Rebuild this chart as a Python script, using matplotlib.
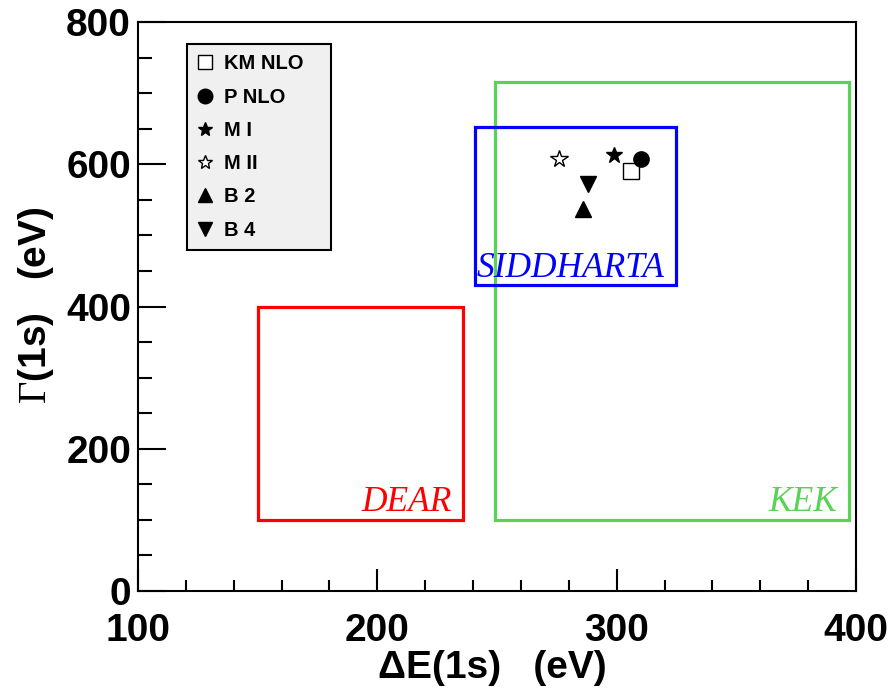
import matplotlib.pyplot as plt
from matplotlib.patches import Rectangle

plt.rcParams['font.family'] = ['Liberation Sans', 'DejaVu Sans']
plt.rcParams['mathtext.fontset'] = 'custom'
plt.rcParams['mathtext.rm'] = 'Liberation Serif'

# experimental boxes: (name, dE low, dE high, Gamma low, Gamma high)
box_names = ["DEAR", "KEK", "SIDDHARTA"]
box_de_lo = [150, 249, 241]
box_de_hi = [236, 397, 325]
box_g_lo = [100, 100, 430]
box_g_hi = [400, 715, 652]
box_colors = ["#ff0000", "#59d354", "#0000ff"]

# theory predictions
calc_names = ["KM NLO", "P NLO", "M I", "M II", "B 2", "B 4"]
calc_de = [306, 310, 299, 276, 286, 288]
calc_g = [590, 607, 613, 607, 537, 572]
calc_marker = ["s", "o", "*", "*", "^", "v"]
calc_face = ["white", "black", "black", "white", "black", "black"]
calc_size = [11, 11, 12, 13, 11, 11]

fig = plt.figure(figsize=(8.91, 6.95), dpi=100)
ax = fig.add_axes([0.1549, 0.1496, 0.9607 - 0.1549, 0.9683 - 0.1496])

for i in range(len(box_names)):
    ax.add_patch(Rectangle((box_de_lo[i], box_g_lo[i]), box_de_hi[i] - box_de_lo[i],
                           box_g_hi[i] - box_g_lo[i], fill=False,
                           edgecolor=box_colors[i], lw=2.3, zorder=2))
    ax.text(box_de_hi[i] - 5, box_g_lo[i] + 12, box_names[i], color=box_colors[i],
            fontsize=25.5, family='Liberation Serif', style='italic',
            ha='right', va='baseline', zorder=3)

for i in range(len(calc_names)):
    ax.plot(calc_de[i], calc_g[i], linestyle='none', marker=calc_marker[i],
            markersize=calc_size[i], markerfacecolor=calc_face[i],
            markeredgecolor='black', markeredgewidth=1.0, label=calc_names[i], zorder=4)

ax.set_xlim(100, 400)
ax.set_ylim(0, 800)
ax.set_xticks([100, 200, 300, 400])
ax.set_xticks(range(100, 401, 20), minor=True)
ax.set_yticks([0, 200, 400, 600, 800])
ax.set_yticks(range(0, 801, 50), minor=True)
ax.tick_params(which='both', direction='in', top=False, right=False, width=1.5)
ax.tick_params(axis='x', which='major', length=16, pad=16, labelsize=28)
ax.tick_params(axis='x', which='minor', length=8)
ax.tick_params(axis='y', which='major', length=20, pad=5, labelsize=28)
ax.tick_params(axis='y', which='minor', length=10)
for lab in ax.get_xticklabels() + ax.get_yticklabels():
    lab.set_fontweight('bold')
for sp in ax.spines.values():
    sp.set_linewidth(1.5)

ax.set_xlabel("\u0394E(1s)   (eV)", fontsize=28, fontweight='bold')
ax.set_ylabel(r"$\Gamma$(1s)   (eV)", fontsize=28, fontweight='bold')
ax.xaxis.label.set_va('center')
ax.yaxis.label.set_va('center')
ax.xaxis.set_label_coords(0.493, -0.135)
ax.yaxis.set_label_coords(-0.142, 0.502)

leg = ax.legend(loc='upper left', bbox_to_anchor=(0.068, 0.961, 0.2006, 0.0),
                mode='expand', prop={'weight': 'bold', 'size': 14.5},
                frameon=True, fancybox=False,
                facecolor='#f0f0f0', edgecolor='black', framealpha=1,
                labelspacing=0.71, handlelength=0.8, handletextpad=0.55,
                borderpad=0.5, borderaxespad=0)
leg.get_frame().set_linewidth(1.5)
for h in leg.legend_handles:
    h.set_markersize(10.5)

fig.savefig("out.png", dpi=100)
